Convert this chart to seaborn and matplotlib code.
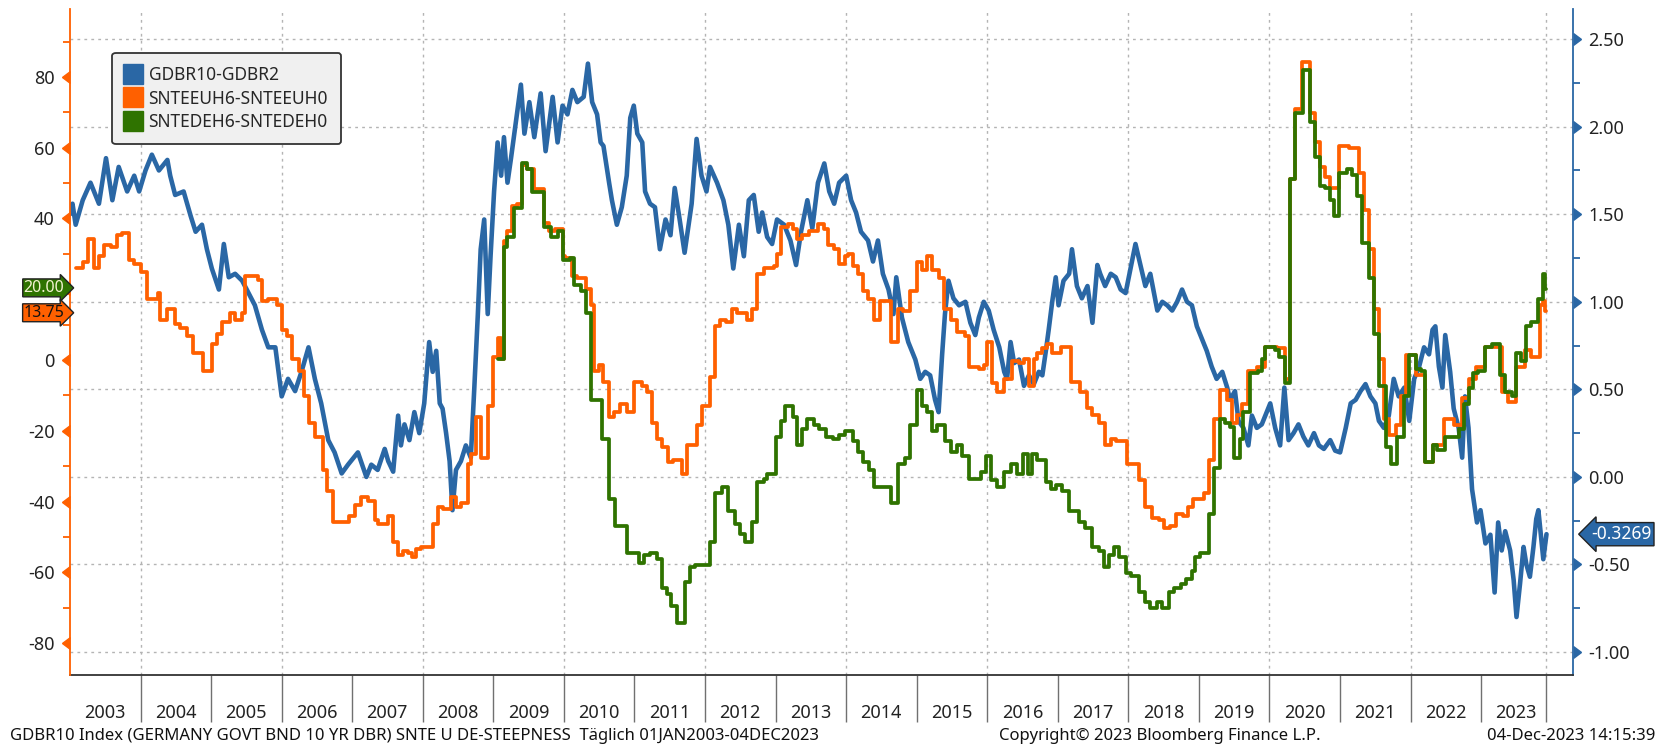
import numpy as np
import pandas as pd
import matplotlib
matplotlib.use("Agg")
import matplotlib.pyplot as plt
import matplotlib.markers as mmarkers
from matplotlib.lines import Line2D
from matplotlib.ticker import FormatStrFormatter
import seaborn as sns

# --- data (decimal years) ---
blue_year = [2003.00, 2003.035, 2003.08, 2003.18, 2003.29, 2003.41, 2003.51, 2003.60, 2003.69, 2003.81,
             2003.91, 2003.98, 2004.07, 2004.16, 2004.26, 2004.38, 2004.42, 2004.49, 2004.61, 2004.71,
             2004.78, 2004.87, 2004.94, 2005.01, 2005.11, 2005.18, 2005.25, 2005.34, 2005.44, 2005.53,
             2005.62, 2005.72, 2005.81, 2005.91, 2006.00, 2006.09, 2006.19, 2006.28, 2006.38, 2006.47,
             2006.56, 2006.66, 2006.75, 2006.85, 2006.94, 2007.08, 2007.20, 2007.27, 2007.36, 2007.46,
             2007.51, 2007.58, 2007.65, 2007.69, 2007.74, 2007.81, 2007.88, 2007.95, 2008.02, 2008.09,
             2008.14, 2008.19, 2008.24, 2008.28, 2008.33, 2008.38, 2008.42, 2008.47, 2008.54, 2008.61,
             2008.68, 2008.73, 2008.78, 2008.82, 2008.87, 2008.92, 2008.96, 2009.01, 2009.06, 2009.11,
             2009.15, 2009.20, 2009.25, 2009.32, 2009.39, 2009.44, 2009.51, 2009.58, 2009.67, 2009.74,
             2009.84, 2009.91, 2009.98, 2010.05, 2010.12, 2010.19, 2010.28, 2010.34, 2010.40, 2010.47,
             2010.52, 2010.56, 2010.64, 2010.68, 2010.75, 2010.82, 2010.89, 2010.94, 2010.99, 2011.04,
             2011.11, 2011.15, 2011.22, 2011.29, 2011.36, 2011.44, 2011.51, 2011.57, 2011.64, 2011.71,
             2011.81, 2011.88, 2011.95, 2012.02, 2012.07, 2012.17, 2012.26, 2012.33, 2012.40, 2012.48,
             2012.55, 2012.62, 2012.69, 2012.76, 2012.81, 2012.88, 2012.95, 2013.02, 2013.12, 2013.21,
             2013.29, 2013.36, 2013.45, 2013.52, 2013.60, 2013.69, 2013.76, 2013.83, 2013.90, 2014.00,
             2014.07, 2014.14, 2014.21, 2014.31, 2014.38, 2014.45, 2014.52, 2014.60, 2014.67, 2014.71,
             2014.79, 2014.88, 2014.98, 2015.05, 2015.12, 2015.19, 2015.26, 2015.31, 2015.36, 2015.40,
             2015.45, 2015.52, 2015.60, 2015.69, 2015.76, 2015.83, 2015.88, 2015.95, 2016.02, 2016.09,
             2016.17, 2016.24, 2016.28, 2016.33, 2016.38, 2016.45, 2016.52, 2016.59, 2016.66, 2016.73,
             2016.78, 2016.83, 2016.87, 2016.92, 2016.97, 2017.01, 2017.08, 2017.16, 2017.20, 2017.27,
             2017.34, 2017.42, 2017.49, 2017.56, 2017.60, 2017.67, 2017.75, 2017.82, 2017.89, 2017.96,
             2018.03, 2018.10, 2018.17, 2018.24, 2018.31, 2018.41, 2018.48, 2018.55, 2018.62, 2018.69,
             2018.76, 2018.83, 2018.90, 2018.97, 2019.04, 2019.11, 2019.18, 2019.25, 2019.33, 2019.40,
             2019.44, 2019.51, 2019.56, 2019.63, 2019.70, 2019.75, 2019.82, 2019.89, 2019.96, 2020.01,
             2020.08, 2020.15, 2020.21, 2020.27, 2020.34, 2020.41, 2020.48, 2020.55, 2020.63, 2020.70,
             2020.77, 2020.86, 2020.93, 2021.00, 2021.08, 2021.15, 2021.22, 2021.29, 2021.36, 2021.43,
             2021.50, 2021.55, 2021.62, 2021.69, 2021.76, 2021.83, 2021.91, 2021.98, 2022.05, 2022.12,
             2022.19, 2022.26, 2022.31, 2022.35, 2022.40, 2022.45, 2022.49, 2022.56, 2022.61, 2022.68,
             2022.73, 2022.77, 2022.82, 2022.87, 2022.94, 2022.99, 2023.06, 2023.13, 2023.19, 2023.24,
             2023.29, 2023.34, 2023.41, 2023.46, 2023.50, 2023.55, 2023.60, 2023.64, 2023.69, 2023.74,
             2023.78, 2023.81, 2023.88, 2023.925]
blue_val = [1.50, 1.56, 1.44, 1.58, 1.68, 1.56, 1.82, 1.58, 1.77, 1.63,
            1.72, 1.63, 1.75, 1.84, 1.75, 1.81, 1.72, 1.61, 1.63, 1.49,
            1.40, 1.44, 1.30, 1.19, 1.07, 1.33, 1.14, 1.16, 1.12, 1.05,
            0.98, 0.84, 0.74, 0.74, 0.46, 0.56, 0.49, 0.60, 0.74, 0.56,
            0.42, 0.21, 0.14, 0.02, 0.07, 0.14, 0.00, 0.07, 0.04, 0.16,
            0.09, 0.03, 0.35, 0.18, 0.30, 0.21, 0.37, 0.25, 0.42, 0.77,
            0.60, 0.72, 0.42, 0.39, 0.25, 0.09, -0.19, 0.04, 0.09, 0.18,
            0.11, 0.51, 0.93, 1.30, 1.47, 0.93, 1.26, 1.63, 1.91, 1.72,
            1.94, 1.68, 1.82, 2.03, 2.24, 1.96, 2.14, 1.94, 2.19, 1.86,
            2.17, 1.91, 2.12, 2.07, 2.21, 2.14, 2.17, 2.36, 2.14, 2.07,
            1.91, 1.89, 1.68, 1.58, 1.44, 1.54, 1.72, 2.05, 2.12, 1.96,
            1.91, 1.63, 1.56, 1.54, 1.30, 1.47, 1.38, 1.65, 1.47, 1.28,
            1.56, 1.93, 1.72, 1.63, 1.77, 1.68, 1.58, 1.44, 1.19, 1.44,
            1.26, 1.58, 1.61, 1.40, 1.51, 1.37, 1.33, 1.47, 1.44, 1.35,
            1.21, 1.40, 1.58, 1.42, 1.68, 1.79, 1.63, 1.56, 1.68, 1.72,
            1.58, 1.51, 1.40, 1.35, 1.23, 1.35, 1.16, 1.07, 0.93, 1.14,
            0.91, 0.77, 0.67, 0.56, 0.60, 0.58, 0.44, 0.37, 0.70, 0.93,
            1.12, 1.02, 0.98, 1.00, 0.88, 0.81, 0.91, 1.00, 0.95, 0.84,
            0.74, 0.60, 0.56, 0.77, 0.65, 0.67, 0.52, 0.58, 0.53, 0.60,
            0.58, 0.72, 0.84, 1.00, 1.14, 0.98, 1.12, 1.16, 1.30, 1.09,
            1.02, 1.09, 0.88, 1.21, 1.16, 1.09, 1.16, 1.14, 1.07, 1.05,
            1.19, 1.33, 1.21, 1.09, 1.16, 0.95, 1.00, 0.98, 0.95, 1.00,
            1.07, 1.00, 0.98, 0.86, 0.79, 0.72, 0.63, 0.56, 0.60, 0.51,
            0.44, 0.49, 0.32, 0.28, 0.18, 0.35, 0.28, 0.30, 0.37, 0.42,
            0.28, 0.18, 0.51, 0.21, 0.25, 0.30, 0.23, 0.18, 0.25, 0.18,
            0.16, 0.21, 0.15, 0.14, 0.28, 0.42, 0.44, 0.49, 0.53, 0.46,
            0.42, 0.32, 0.28, 0.35, 0.56, 0.46, 0.51, 0.32, 0.56, 0.63,
            0.74, 0.70, 0.84, 0.86, 0.63, 0.51, 0.81, 0.60, 0.39, 0.28,
            0.11, 0.46, 0.28, -0.07, -0.26, -0.19, -0.38, -0.33, -0.66, -0.26,
            -0.42, -0.31, -0.42, -0.59, -0.80, -0.61, -0.40, -0.50, -0.57, -0.40,
            -0.24, -0.19, -0.47, -0.3269]

orange_year = [2003.08, 2003.18, 2003.25, 2003.34, 2003.41, 2003.48, 2003.58, 2003.67, 2003.74, 2003.84,
               2003.91, 2004.00, 2004.09, 2004.24, 2004.28, 2004.38, 2004.49, 2004.56, 2004.66, 2004.75,
               2004.89, 2005.01, 2005.08, 2005.15, 2005.27, 2005.34, 2005.44, 2005.48, 2005.67, 2005.72,
               2005.81, 2005.93, 2006.00, 2006.07, 2006.14, 2006.24, 2006.31, 2006.38, 2006.47, 2006.59,
               2006.64, 2006.73, 2006.96, 2007.04, 2007.13, 2007.22, 2007.32, 2007.36, 2007.51, 2007.58,
               2007.65, 2007.72, 2007.79, 2007.84, 2007.91, 2007.98, 2008.14, 2008.21, 2008.28, 2008.40,
               2008.47, 2008.54, 2008.64, 2008.68, 2008.75, 2008.82, 2008.92, 2008.99, 2009.06, 2009.11,
               2009.15, 2009.20, 2009.27, 2009.34, 2009.41, 2009.48, 2009.58, 2009.72, 2009.79, 2009.88,
               2009.98, 2010.02, 2010.12, 2010.19, 2010.31, 2010.38, 2010.42, 2010.49, 2010.56, 2010.64,
               2010.71, 2010.80, 2010.89, 2010.99, 2011.11, 2011.18, 2011.25, 2011.32, 2011.39, 2011.48,
               2011.55, 2011.67, 2011.74, 2011.88, 2011.95, 2012.07, 2012.14, 2012.21, 2012.29, 2012.38,
               2012.45, 2012.60, 2012.67, 2012.74, 2012.83, 2012.98, 2013.02, 2013.07, 2013.17, 2013.24,
               2013.31, 2013.38, 2013.48, 2013.60, 2013.69, 2013.74, 2013.83, 2013.90, 2013.98, 2014.02,
               2014.10, 2014.17, 2014.24, 2014.31, 2014.40, 2014.48, 2014.64, 2014.74, 2014.81, 2014.90,
               2015.00, 2015.07, 2015.14, 2015.21, 2015.31, 2015.38, 2015.48, 2015.57, 2015.69, 2015.74,
               2015.88, 2015.95, 2016.00, 2016.07, 2016.14, 2016.24, 2016.35, 2016.45, 2016.52, 2016.59,
               2016.66, 2016.71, 2016.78, 2016.85, 2016.92, 2017.04, 2017.18, 2017.32, 2017.42, 2017.49,
               2017.58, 2017.67, 2017.75, 2017.82, 2017.98, 2018.15, 2018.24, 2018.33, 2018.43, 2018.50,
               2018.59, 2018.67, 2018.78, 2018.85, 2018.92, 2019.07, 2019.14, 2019.21, 2019.30, 2019.40,
               2019.47, 2019.54, 2019.61, 2019.70, 2019.82, 2019.94, 2020.10, 2020.22, 2020.29, 2020.36,
               2020.46, 2020.58, 2020.65, 2020.72, 2020.79, 2020.86, 2020.98, 2021.12, 2021.27, 2021.34,
               2021.41, 2021.48, 2021.55, 2021.62, 2021.69, 2021.79, 2021.86, 2021.93, 2022.07, 2022.21,
               2022.31, 2022.47, 2022.61, 2022.73, 2022.82, 2022.92, 2023.06, 2023.29, 2023.38, 2023.50,
               2023.62, 2023.71, 2023.83, 2023.88, 2023.91, 2023.925]
orange_val = [26.0, 27.8, 34.2, 26.0, 29.5, 32.4, 31.8, 35.3, 35.9, 28.3,
              27.2, 24.8, 17.3, 19.0, 11.4, 14.3, 10.3, 9.1, 6.8, 2.1,
              -3.1, 4.4, 7.3, 10.8, 13.2, 11.4, 13.2, 23.7, 22.5, 16.7,
              17.3, 15.5, 8.5, 6.8, 0.4, -3.1, -10.1, -17.7, -21.8, -31.1,
              -37.0, -45.7, -44.0, -41.0, -38.7, -39.9, -45.1, -46.3, -44.0, -51.5,
              -55.0, -54.0, -54.5, -55.6, -53.3, -52.7, -46.3, -41.6, -42.2, -38.7,
              -41.6, -40.5, -29.4, -26.5, -16.0, -27.6, -13.1, 0.9, 6.2, 0.4,
              33.6, 36.5, 43.5, 44.1, 55.2, 54.0, 48.2, 38.8, 36.5, 37.1,
              29.5, 28.9, 23.7, 23.1, 20.2, 15.5, -3.1, -1.4, -6.1, -16.0,
              -14.8, -12.5, -14.8, -6.1, -7.2, -9.0, -17.7, -22.4, -24.7, -28.8,
              -28.2, -32.3, -24.1, -18.3, -13.1, -4.9, 9.7, 11.4, 10.8, 14.3,
              13.2, 11.4, 14.3, 24.3, 26.0, 26.6, 30.1, 37.7, 38.3, 37.1,
              34.2, 35.3, 36.5, 38.3, 37.1, 32.4, 31.3, 27.2, 29.5, 30.1,
              26.6, 24.3, 19.6, 17.3, 11.4, 16.7, 5.0, 14.3, 13.8, 19.6,
              27.8, 25.4, 29.5, 25.4, 23.1, 14.3, 11.4, 7.9, 6.8, -2.0,
              -2.6, -1.4, 5.0, -6.6, -9.0, -5.5, -0.2, -0.8, 0.4, -7.2,
              0.4, 2.1, 3.3, 4.4, 2.1, 3.8, -6.1, -9.0, -13.6, -15.4,
              -17.7, -24.1, -22.4, -23.0, -29.4, -34.0, -41.6, -44.5, -45.1, -47.5,
              -46.9, -43.4, -44.0, -41.6, -39.3, -37.5, -28.2, -16.6, -8.4, -11.3,
              -17.7, -15.4, -12.5, -3.1, -2.0, 3.8, 3.3, -5.5, 51.1, 70.9,
              84.3, 69.7, 61.6, 54.6, 51.7, 48.7, 60.4, 59.8, 52.8, 42.3,
              31.3, 14.3, 0.4, -16.6, -21.2, -18.3, -10.1, 1.5, -4.3, -28.8,
              -24.1, -16.6, -18.3, -10.7, -5.5, -2.0, 3.8, -9.0, -11.9, -2.0,
              2.7, 0.9, 15.5, 16.7, 13.75, 13.75]

green_year = [2009.06, 2009.15, 2009.20, 2009.29, 2009.41, 2009.48, 2009.55, 2009.72, 2009.81, 2009.91,
              2009.98, 2010.09, 2010.14, 2010.24, 2010.31, 2010.38, 2010.54, 2010.64, 2010.73, 2010.89,
              2011.06, 2011.13, 2011.22, 2011.32, 2011.39, 2011.46, 2011.52, 2011.60, 2011.71, 2011.79,
              2011.86, 2012.07, 2012.14, 2012.24, 2012.33, 2012.43, 2012.50, 2012.57, 2012.67, 2012.74,
              2012.83, 2012.88, 2013.00, 2013.07, 2013.14, 2013.24, 2013.31, 2013.38, 2013.45, 2013.55,
              2013.62, 2013.71, 2013.81, 2013.90, 2013.98, 2014.10, 2014.17, 2014.24, 2014.33, 2014.40,
              2014.64, 2014.74, 2014.83, 2014.90, 2015.00, 2015.07, 2015.14, 2015.21, 2015.29, 2015.40,
              2015.48, 2015.57, 2015.64, 2015.74, 2015.91, 2015.98, 2016.05, 2016.14, 2016.24, 2016.33,
              2016.42, 2016.50, 2016.57, 2016.64, 2016.71, 2016.83, 2016.90, 2016.97, 2017.06, 2017.16,
              2017.30, 2017.39, 2017.49, 2017.58, 2017.65, 2017.72, 2017.79, 2017.86, 2017.96, 2018.03,
              2018.15, 2018.24, 2018.31, 2018.41, 2018.48, 2018.57, 2018.64, 2018.74, 2018.81, 2018.90,
              2018.95, 2019.02, 2019.14, 2019.21, 2019.30, 2019.37, 2019.44, 2019.49, 2019.58, 2019.63,
              2019.73, 2019.84, 2019.89, 2019.94, 2020.08, 2020.13, 2020.22, 2020.29, 2020.36, 2020.48,
              2020.58, 2020.65, 2020.72, 2020.79, 2020.86, 2020.91, 2020.98, 2021.10, 2021.17, 2021.24,
              2021.31, 2021.41, 2021.48, 2021.55, 2021.65, 2021.72, 2021.81, 2021.91, 2021.98, 2022.07,
              2022.14, 2022.21, 2022.31, 2022.38, 2022.49, 2022.68, 2022.75, 2022.82, 2022.89, 2022.96,
              2023.06, 2023.15, 2023.27, 2023.34, 2023.43, 2023.50, 2023.57, 2023.64, 2023.71, 2023.81,
              2023.88, 2023.91, 2023.925]
green_val = [0.4, 31.8, 34.8, 42.9, 55.7, 54.0, 47.6, 37.7, 34.8, 36.5,
             28.3, 28.9, 21.3, 19.6, 13.2, -11.3, -22.4, -39.3, -46.9, -54.5,
             -57.4, -55.0, -54.5, -56.2, -64.4, -66.0, -69.6, -74.3, -62.6, -58.5,
             -58.0, -51.5, -37.5, -35.8, -42.8, -46.3, -49.2, -51.5, -45.7, -34.6,
             -33.5, -32.3, -21.8, -17.1, -13.1, -16.0, -24.1, -19.5, -16.6, -18.3,
             -19.5, -21.8, -22.4, -21.2, -20.1, -23.0, -25.9, -28.8, -31.1, -35.8,
             -40.5, -29.4, -27.6, -18.3, -8.4, -13.1, -14.8, -20.1, -18.3, -23.0,
             -25.9, -24.1, -27.1, -33.5, -31.7, -27.1, -34.0, -35.8, -31.7, -29.4,
             -32.3, -26.5, -32.3, -26.5, -28.2, -34.6, -36.4, -35.2, -37.0, -42.8,
             -45.7, -47.5, -52.7, -53.9, -58.5, -55.0, -52.7, -55.6, -60.3, -60.9,
             -65.5, -68.5, -70.2, -68.5, -70.2, -65.5, -64.4, -63.2, -62.0, -59.7,
             -55.6, -54.5, -43.4, -30.6, -16.6, -17.7, -18.9, -27.6, -22.4, -14.8,
             -3.7, -3.1, 0.4, 3.8, 2.7, 0.9, -6.6, 51.1, 69.7, 82.0,
             67.4, 57.5, 49.3, 48.7, 45.2, 40.6, 52.8, 54.0, 52.2, 46.4,
             33.0, 23.1, 7.3, -7.2, -24.7, -29.4, -21.8, -10.1, 1.5, -2.6,
             -3.1, -28.8, -24.1, -25.3, -21.8, -19.5, -12.5, -7.8, -3.7, -3.1,
             3.8, 4.4, -4.3, -9.0, -10.1, 2.1, -0.2, 9.7, 10.8, 17.3,
             24.3, 20.0, 20.0]

series_labels = ["GDBR10-GDBR2", "SNTEEUH6-SNTEEUH0", "SNTEDEH6-SNTEDEH0"]
year_labels = [str(y) for y in range(2003, 2024)]
separator_years = list(range(2004, 2024))
grid_years = list(range(2004, 2024, 2))
end_date = "2023-12-04"
left_ticks = [-80, -60, -40, -20, 0, 20, 40, 60, 80]
# the "20" label sits underneath the last-value tag on the Bloomberg chart
left_tick_labels = ["-80", "-60", "-40", "-20", "0", "", "40", "60", "80"]
right_ticks = [-1.0, -0.5, 0.0, 0.5, 1.0, 1.5, 2.0, 2.5]
footer_left = "GDBR10 Index (GERMANY GOVT BND 10 YR DBR) SNTE U DE-STEEPNESS  Täglich 01JAN2003-04DEC2023"
footer_mid = "Copyright\u00a9 2023 Bloomberg Finance L.P."
footer_right = "04-Dec-2023 14:15:39"

BLUE = "#2a67a5"
ORANGE = "#ff6000"
GREEN = "#2f7300"
GRID = "#b4b4b4"


def to_dates(years):
    base = pd.Timestamp("2003-01-01")
    return base + pd.to_timedelta((np.asarray(years) - 2003) * 365.25, unit="D")


sns.set_style("white")
plt.rcParams["font.family"] = ["Noto Sans", "DejaVu Sans"]
plt.rcParams["axes.unicode_minus"] = False
narrow = ["Liberation Sans Narrow", "Noto Sans", "DejaVu Sans"]

fig = plt.figure(figsize=(16.67, 7.48), dpi=100)
# primary axes carries the right-hand (blue) scale, twin carries the left scale
ax = fig.add_axes([0.042, 0.0976, 0.9016, 0.8904])
ax2 = ax.twinx()
ax.yaxis.tick_right()
ax2.yaxis.tick_left()

sns.lineplot(x=to_dates(blue_year), y=blue_val, ax=ax, color=BLUE, lw=3.3,
             estimator=None, sort=False)
sns.lineplot(x=to_dates(orange_year), y=orange_val, ax=ax2, color=ORANGE, lw=2.7,
             estimator=None, sort=False, drawstyle="steps-post")
sns.lineplot(x=to_dates(green_year), y=green_val, ax=ax2, color=GREEN, lw=2.7,
             estimator=None, sort=False, drawstyle="steps-post")

ax.set_xlim(pd.Timestamp("2003-01-01"), pd.Timestamp("2024-04-20"))
ax.set_ylim(-1.131, 2.672)
ax2.set_ylim(-89, 99.2)

# spines
for s in ["top", "left"]:
    ax.spines[s].set_visible(False)
for s in ["top", "right", "bottom"]:
    ax2.spines[s].set_visible(False)
ax.spines["right"].set_color(BLUE)
ax.spines["right"].set_linewidth(1.3)
ax.spines["bottom"].set_color("#333333")
ax.spines["bottom"].set_linewidth(1.3)
ax2.spines["left"].set_color(ORANGE)
ax2.spines["left"].set_linewidth(1.3)

# grid: horizontal on right scale, vertical every other year
ax.set_yticks(right_ticks)
ax.set_yticks(np.arange(-0.75, 2.6, 0.5), minor=True)
ax.yaxis.set_major_formatter(FormatStrFormatter("%.2f"))
ax.grid(axis="y", which="major", color=GRID, ls=(0, (2, 3)), lw=1)
ax.grid(axis="x", visible=False)
grid_dates = [pd.Timestamp(f"{y}-01-01") for y in grid_years] + [pd.Timestamp(end_date)]
for gd in grid_dates:
    ax.axvline(gd, color=GRID, ls=(0, (2, 3)), lw=1, zorder=0)

ax2.set_yticks(left_ticks)
ax2.set_yticklabels(left_tick_labels)
ax2.set_yticks(np.arange(-70, 100, 20), minor=True)

ax.tick_params(axis="y", which="major", right=True, length=0, pad=11, labelsize=13, labelcolor="#222222")
ax.tick_params(axis="y", which="minor", right=True, length=5, width=1.3, color=BLUE, direction="out")
ax2.tick_params(axis="y", which="major", left=True, length=0, pad=11, labelsize=13, labelcolor="#222222")
ax2.tick_params(axis="y", which="minor", left=True, length=5, width=1.3, color=ORANGE, direction="out")

# triangular major tick markers
ax2.plot(np.zeros(len(left_ticks)), left_ticks, ls="none", marker=mmarkers.CARETLEFTBASE,
         ms=8, color=ORANGE, transform=ax2.get_yaxis_transform(), clip_on=False)
ax.plot(np.ones(len(right_ticks)), right_ticks, ls="none", marker=mmarkers.CARETRIGHTBASE,
        ms=8, color=BLUE, transform=ax.get_yaxis_transform(), clip_on=False)

# x axis: year separators + centred year labels
sep_dates = [pd.Timestamp(f"{y}-01-01") for y in separator_years] + [pd.Timestamp(end_date)]
ax.set_xticks(sep_dates)
ax.set_xticklabels([""] * len(sep_dates))
ax.set_xticks([pd.Timestamp(f"{y}-07-01") for y in year_labels], minor=True)
ax.set_xticklabels(year_labels, minor=True, fontsize=13, family=narrow, color="#222222")
ax.tick_params(axis="x", which="major", bottom=True, length=34, width=1, color="#707070", direction="out")
ax.tick_params(axis="x", which="minor", bottom=True, length=0, pad=21)
ax.set_xlabel("")
ax.set_ylabel("")
ax2.set_ylabel("")

# legend
handles = [Line2D([], [], ls="none", marker="s", ms=15, color=c) for c in (BLUE, ORANGE, GREEN)]
leg = ax2.legend(handles, series_labels, loc="upper left", bbox_to_anchor=(0.028, 0.934),
                 borderaxespad=0, fontsize=12.5, frameon=True, fancybox=True,
                 handlelength=0.9, handletextpad=0.45, labelspacing=0.32,
                 borderpad=0.75, facecolor="#f0f0f0", edgecolor="#333333", framealpha=1)
leg.get_frame().set_linewidth(1.3)

# last value tags
tag_tf = ax2.get_yaxis_transform()
ax2.annotate(f"{green_val[-1]:.2f}", xy=(0, green_val[-1]), xycoords=tag_tf,
             xytext=(-4, 1), textcoords="offset points", ha="right", va="center",
             fontsize=11.5, color="#f2f2d0", annotation_clip=False,
             bbox=dict(boxstyle="rarrow,pad=0.06", fc=GREEN, ec="#222222", lw=1))
ax2.annotate(f"{orange_val[-1]:.2f}", xy=(0, orange_val[-1]), xycoords=tag_tf,
             xytext=(-4, -1), textcoords="offset points", ha="right", va="center",
             fontsize=11.5, color="#111111", annotation_clip=False,
             bbox=dict(boxstyle="rarrow,pad=0.06", fc=ORANGE, ec="#222222", lw=1))
ax.text(1.012, blue_val[-1], f"{blue_val[-1]:.4f}", transform=ax.get_yaxis_transform(),
        ha="left", va="center", fontsize=12.5, color="white",
        bbox=dict(boxstyle="larrow,pad=0.15", fc=BLUE, ec="#222222", lw=1), clip_on=False)

# footer
fig.text(0.006, 0.016, footer_left, fontsize=12, family=narrow, color="#111111", va="center")
fig.text(0.599, 0.016, footer_mid, fontsize=12, family=narrow, color="#111111", va="center")
fig.text(0.993, 0.016, footer_right, fontsize=12, family=narrow, color="#111111", va="center", ha="right")

fig.savefig("out.png", dpi=100)
